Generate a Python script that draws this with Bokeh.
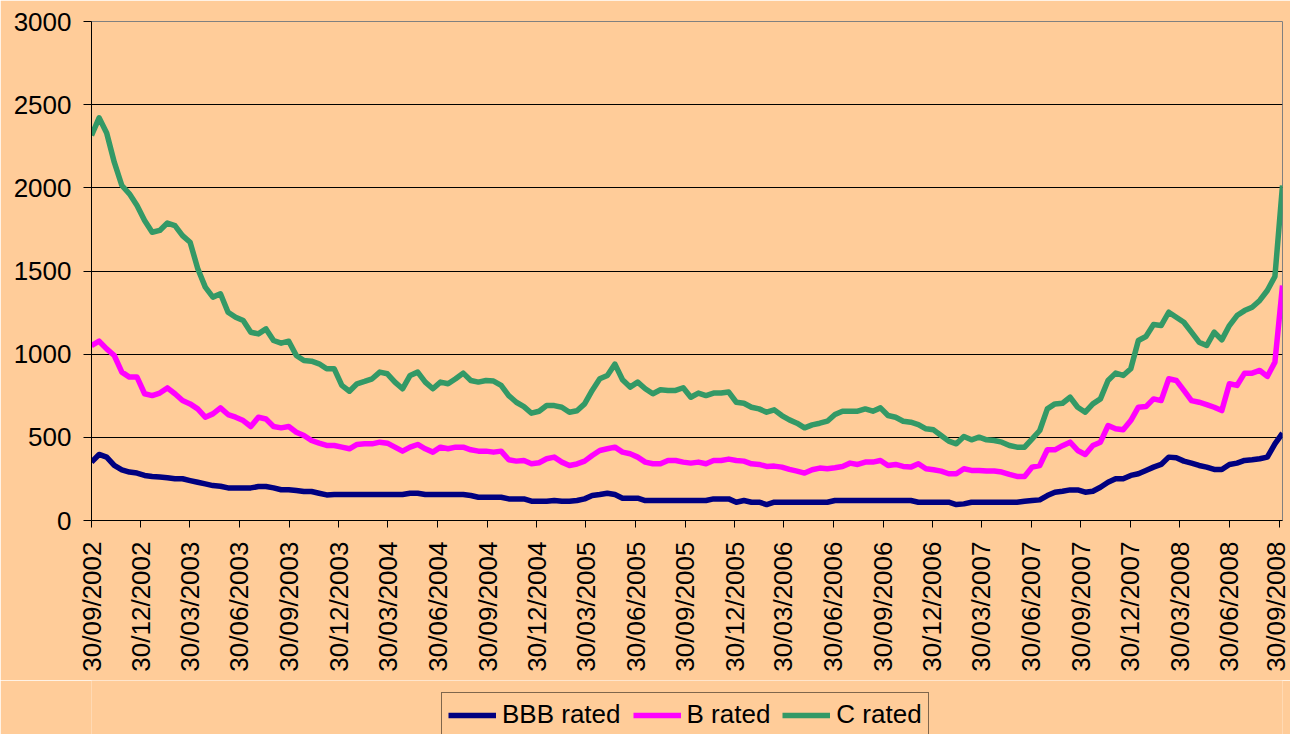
import math
import pandas as pd
from bokeh.plotting import figure
from bokeh.layouts import column
from bokeh.models import Range1d, FixedTicker, DatetimeTickFormatter, Legend
from bokeh.embed import file_html
from bokeh.resources import INLINE

tick_labels = ["30/09/2002", "30/12/2002", "30/03/2003", "30/06/2003", "30/09/2003",
               "30/12/2003", "30/03/2004", "30/06/2004", "30/09/2004", "30/12/2004",
               "30/03/2005", "30/06/2005", "30/09/2005", "30/12/2005", "30/03/2006",
               "30/06/2006", "30/09/2006", "30/12/2006", "30/03/2007", "30/06/2007",
               "30/09/2007", "30/12/2007", "30/03/2008", "30/06/2008", "30/09/2008"]
y_ticks = [0, 500, 1000, 1500, 2000, 2500, 3000]
series_names = ["BBB rated", "B rated", "C rated"]

dates = list(pd.date_range("2002-09-30", periods=157, freq="14D")) + [pd.Timestamp("2008-10-06")]

bbb_rated = [351, 397, 381, 331, 305, 291, 285, 271, 265, 261,
             257, 251, 251, 240, 230, 220, 210, 206, 196, 196,
             196, 196, 204, 204, 196, 185, 185, 180, 174, 174,
             164, 154, 156, 156, 156, 156, 156, 156, 156, 156,
             156, 156, 164, 164, 156, 156, 156, 156, 156, 156,
             150, 140, 140, 140, 140, 130, 130, 130, 116, 116,
             116, 120, 116, 116, 120, 130, 150, 156, 164, 156,
             134, 134, 134, 120, 120, 120, 120, 120, 120, 120,
             120, 120, 130, 130, 130, 110, 120, 110, 110, 96,
             110, 110, 110, 110, 110, 110, 110, 110, 120, 120,
             120, 120, 120, 120, 120, 120, 120, 120, 120, 110,
             110, 110, 110, 110, 96, 100, 110, 110, 110, 110,
             110, 110, 110, 116, 120, 124, 150, 170, 176, 184,
             184, 170, 176, 200, 230, 251, 251, 271, 281, 301,
             321, 337, 381, 377, 357, 345, 331, 321, 307, 307,
             337, 345, 361, 365, 371, 381, 461, 525]

b_rated = [1052, 1078, 1032, 992, 892, 862, 862, 762, 751, 766,
           797, 762, 721, 701, 671, 621, 641, 677, 637, 621,
           601, 565, 621, 610, 565, 557, 565, 531, 511, 481,
           465, 451, 451, 441, 431, 457, 461, 461, 471, 465,
           441, 417, 441, 457, 431, 411, 441, 431, 441, 441,
           425, 417, 417, 411, 417, 365, 357, 361, 341, 347,
           371, 381, 351, 331, 340, 357, 391, 421, 431, 441,
           411, 401, 381, 351, 341, 341, 361, 361, 351, 345,
           351, 341, 361, 361, 369, 361, 357, 341, 337, 325,
           327, 321, 307, 297, 285, 305, 315, 311, 317, 325,
           345, 337, 351, 351, 361, 331, 337, 325, 321, 341,
           311, 305, 297, 281, 281, 311, 301, 301, 297, 297,
           291, 277, 265, 265, 321, 331, 425, 425, 450, 471,
           421, 397, 451, 471, 571, 551, 545, 601, 681, 685,
           731, 721, 852, 842, 782, 721, 711, 697, 681, 661,
           822, 812, 886, 886, 902, 866, 952, 1413]

c_rated = [2315, 2421, 2330, 2154, 2014, 1964, 1894, 1804, 1733, 1744,
           1788, 1773, 1713, 1673, 1515, 1403, 1343, 1363, 1252, 1222,
           1202, 1132, 1122, 1152, 1082, 1066, 1078, 992, 962, 958,
           942, 912, 912, 812, 777, 822, 836, 852, 892, 882,
           832, 792, 872, 892, 832, 792, 832, 822, 852, 886,
           842, 832, 842, 838, 812, 751, 711, 685, 645, 657,
           691, 691, 681, 651, 660, 701, 782, 852, 872, 940,
           846, 802, 832, 792, 762, 786, 782, 782, 798, 741,
           766, 751, 766, 766, 772, 711, 705, 681, 671, 651,
           665, 631, 605, 585, 557, 575, 585, 597, 637, 657,
           657, 657, 671, 657, 677, 631, 621, 597, 591, 577,
           551, 545, 511, 477, 461, 505, 485, 501, 485, 481,
           471, 451, 441, 441, 491, 541, 671, 701, 705, 741,
           681, 651, 701, 731, 842, 886, 872, 912, 1082, 1106,
           1178, 1172, 1252, 1222, 1192, 1132, 1072, 1052, 1132, 1086,
           1172, 1232, 1262, 1282, 1323, 1383, 1467, 2014]

BG = "#FFCC99"
FONT = "Liberation Sans"
COLORS = ["#000080", "#FF00FF", "#339966"]
LW = 5.5
SERIES = [bbb_rated, b_rated, c_rated]

p = figure(width=1290, height=680, output_backend="svg", toolbar_location=None,
           x_axis_type="datetime",
           x_range=Range1d(start=dates[0], end=dates[-1]),
           y_range=Range1d(start=0, end=3000),
           min_border_left=91, min_border_right=8, min_border_top=21, min_border_bottom=160)
p.background_fill_color = BG
p.border_fill_color = BG
p.outline_line_color = "#808080"
p.outline_line_width = 1

for vals, col in zip(SERIES, COLORS):
    p.line(dates, vals, line_color=col, line_width=LW, line_join="round")

tick_ms = [pd.to_datetime(t, format="%d/%m/%Y").value / 1e6 for t in tick_labels]
p.xaxis.ticker = FixedTicker(ticks=tick_ms)
fmt = "%d/%m/%Y"
p.xaxis.formatter = DatetimeTickFormatter(
    microseconds=fmt, milliseconds=fmt, seconds=fmt, minsec=fmt, minutes=fmt,
    hourmin=fmt, hours=fmt, days=fmt, months=fmt, years=fmt,
    strip_leading_zeros=False)
p.xaxis.major_label_orientation = math.pi / 2
p.yaxis.ticker = FixedTicker(ticks=y_ticks)

for ax in (p.xaxis[0], p.yaxis[0]):
    ax.axis_line_color = "black"
    ax.axis_line_width = 1
    ax.major_tick_line_color = "black"
    ax.major_tick_in = 0
    ax.minor_tick_line_color = None
    ax.major_label_text_font = FONT
    ax.major_label_text_font_size = "26px"
    ax.major_label_text_color = "black"
p.xaxis.major_tick_out = 7
p.xaxis.major_label_standoff = 14
p.yaxis.major_tick_out = 8
p.yaxis.major_label_standoff = 12

p.xgrid.visible = False
p.ygrid.grid_line_color = "black"
p.ygrid.grid_line_width = 1

# legend strip below the chart (its lines use the real data, outside the strip's range)
lg = figure(width=1290, height=54, output_backend="svg", toolbar_location=None,
            x_range=Range1d(0, 1), y_range=Range1d(0, 1),
            x_axis_location=None, y_axis_location=None,
            min_border=0, min_border_left=0, min_border_right=0,
            min_border_top=0, min_border_bottom=0)
lg.background_fill_color = BG
lg.border_fill_color = BG
lg.outline_line_color = None
lg.xgrid.visible = False
lg.ygrid.visible = False

items = []
for name, vals, col in zip(series_names, SERIES, COLORS):
    r = lg.line(dates, vals, line_color=col, line_width=LW)
    items.append((name, [r]))

legend = Legend(items=items, location=(350, -3), orientation="horizontal")
legend.label_text_font = FONT
legend.label_text_font_size = "26px"
legend.label_text_color = "black"
legend.glyph_width = 48
legend.glyph_height = 20
legend.label_standoff = 6
legend.spacing = 12
legend.padding = 6
legend.margin = 0
legend.border_line_color = "black"
legend.border_line_width = 1
legend.background_fill_color = BG
legend.background_fill_alpha = 1
lg.add_layout(legend)

layout = column(p, lg, spacing=0)
open("out.html", "w").write(file_html(layout, INLINE))
